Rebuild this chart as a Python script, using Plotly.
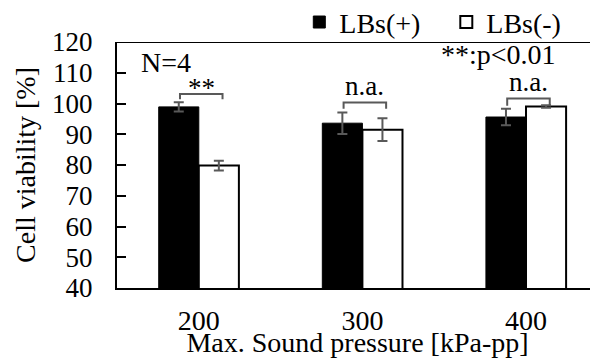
import plotly.graph_objects as go

categories = ["200", "300", "400"]
lbs_plus = [98.9, 93.6, 95.6]
lbs_plus_err = [1.5, 3.5, 2.7]
lbs_minus = [79.8, 91.5, 99.0]
lbs_minus_err = [1.6, 3.7, 0.4]
sig_labels = ["**", "n.a.", "n.a."]
bracket_top = [103.1, 100.3, 101.6]
bracket_leg = [101.4, 98.3, 99.3]
label_drop = [3.6, 0.0, 0.0]

FONT = "Liberation Serif"
GRAY = "#595959"

xpos = list(range(len(categories)))

fig = go.Figure()
fig.add_trace(go.Bar(
    x=xpos, y=lbs_plus, name="LBs(+)",
    marker=dict(color="black", line=dict(color="black", width=1)),
    error_y=dict(type="data", array=lbs_plus_err, color=GRAY, thickness=2, width=5),
))
fig.add_trace(go.Bar(
    x=xpos, y=lbs_minus, name="LBs(-)",
    marker=dict(color="white", line=dict(color="black", width=2)),
    error_y=dict(type="data", array=lbs_minus_err, color=GRAY, thickness=2, width=5),
))

shapes = [dict(type="line", xref="paper", yref="y", x0=0, x1=1, y0=120, y1=120,
               line=dict(color="black", width=2))]
annotations = []
for i, lab in enumerate(sig_labels):
    x0 = i - 0.115
    x1 = i + 0.145
    shapes.append(dict(type="path", xref="x", yref="y",
                       path=f"M {x0} {bracket_leg[i]} L {x0} {bracket_top[i]} L {x1} {bracket_top[i]} L {x1} {bracket_leg[i]}",
                       line=dict(color=GRAY, width=2)))
    annotations.append(dict(x=(x0 + x1) / 2, y=bracket_top[i] - label_drop[i], xref="x", yref="y",
                            text=lab, showarrow=False, yanchor="bottom",
                            font=dict(family=FONT, size=27, color="black")))

annotations.append(dict(x=-0.2, y=113.2, xref="x", yref="y", text="N=4", showarrow=False,
                        font=dict(family=FONT, size=28, color="black")))
annotations.append(dict(x=1.83, y=115.8, xref="x", yref="y", text="**:p<0.01", showarrow=False,
                        font=dict(family=FONT, size=28, color="black")))

# The page body adds an 8px offset, so the figure is sized to end at the window edge.
fig.update_layout(
    width=590, height=350,
    margin=dict(l=109, r=0, t=34, b=70, autoexpand=False),
    paper_bgcolor="white", plot_bgcolor="white",
    barmode="group", bargap=0.51, bargroupgap=0,
    font=dict(family=FONT, size=27, color="black"),
    showlegend=True,
    legend=dict(orientation="h", x=0.379, xanchor="left", y=1.08, yanchor="middle",
                entrywidth=102, entrywidthmode="pixels",
                font=dict(family=FONT, size=28, color="black"),
                bgcolor="rgba(0,0,0,0)"),
    shapes=shapes,
    annotations=annotations,
    xaxis=dict(range=[-0.5, 2.44], tickvals=xpos, ticktext=categories,
               showline=True, linecolor="black", linewidth=2, ticks="",
               showgrid=False, zeroline=False, ticklabelstandoff=6,
               tickfont=dict(family=FONT, size=28, color="black"),
               title=dict(text="Max. Sound pressure [kPa-pp]", standoff=0,
                          font=dict(family=FONT, size=28, color="black"))),
    yaxis=dict(range=[40, 120], dtick=10, tick0=40,
               showline=True, linecolor="black", linewidth=2,
               ticks="inside", ticklen=9, tickwidth=2, tickcolor="black",
               showgrid=False, zeroline=False, ticklabelstandoff=17,
               tickfont=dict(family=FONT, size=27, color="black"),
               title=dict(text="Cell viability [%]", standoff=8,
                          font=dict(family=FONT, size=28, color="black"))),
)

fig.write_html("out.html")
